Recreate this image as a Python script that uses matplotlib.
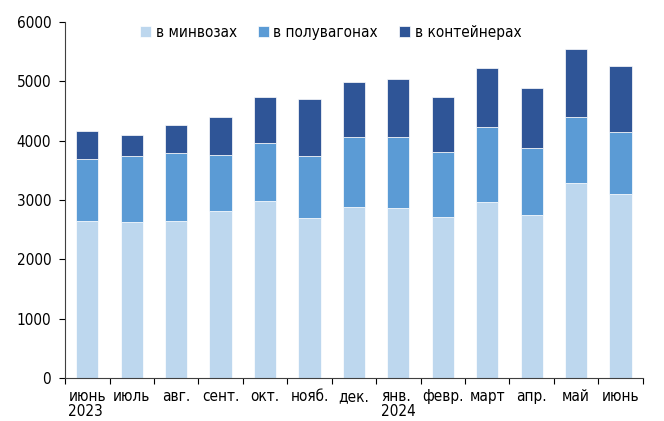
import numpy as np
import matplotlib
matplotlib.use('Agg')
import matplotlib.pyplot as plt

# месяцы и итоговые уровни (тыс. т)
months = ['июнь\n2023', 'июль', 'авг.', 'сент.', 'окт.', 'нояб.', 'дек.',
          'янв.\n2024', 'февр.', 'март', 'апр.', 'май', 'июнь']
minvoz = [2645, 2626, 2638, 2817, 2985, 2694, 2880, 2862, 2710, 2974, 2739, 3283, 3109]
minvoz_polu = [3687, 3737, 3788, 3766, 3956, 3742, 4069, 4057, 3810, 4226, 3872, 4400, 4152]
total = [4163, 4096, 4265, 4390, 4742, 4697, 4995, 5039, 4731, 5231, 4882, 5544, 5264]

minvoz = np.array(minvoz)
poluvagon = np.array(minvoz_polu) - minvoz
konteiner = np.array(total) - np.array(minvoz_polu)

plt.rcParams['font.family'] = ['DejaVu Sans']
plt.rcParams['font.stretch'] = 'condensed'

fig = plt.figure(figsize=(6.64, 4.21), dpi=100)
ax = fig.add_axes([0.098, 0.102, 0.870, 0.846])

x = np.arange(len(months))
w = 0.5
ax.bar(x, minvoz, w, color='#BDD7EE', edgecolor='white', linewidth=0.5, label='в минвозах')
ax.bar(x, poluvagon, w, bottom=minvoz, color='#5B9BD5', edgecolor='white', linewidth=0.5,
       label='в полувагонах')
ax.bar(x, konteiner, w, bottom=minvoz + poluvagon, color='#2F5597', edgecolor='white',
       linewidth=0.5, label='в контейнерах')

ax.set_xlim(-0.5, len(months) - 0.5)
ax.set_ylim(0, 6000)
ax.set_yticks(range(0, 6001, 1000))
ax.tick_params(axis='y', labelsize=11, length=4, direction='out', pad=6)

# подписи месяцев между делениями
ax.set_xticks(np.arange(-0.5, len(months), 1))
ax.set_xticklabels([])
ax.tick_params(axis='x', length=4, direction='out')
for i, m in enumerate(months):
    ax.text(i, -190, m, ha='center', va='top', fontsize=11, multialignment='left',
            linespacing=1.0)

for s in ['top', 'right']:
    ax.spines[s].set_visible(False)
for s in ['left', 'bottom']:
    ax.spines[s].set_color('#404040')

ax.legend(loc='upper center', bbox_to_anchor=(0.46, 1.03), ncol=3, frameon=False,
          fontsize=11, handlelength=0.7, handleheight=0.7, handletextpad=0.3,
          columnspacing=1.4)

fig.savefig('out.png', dpi=100)
